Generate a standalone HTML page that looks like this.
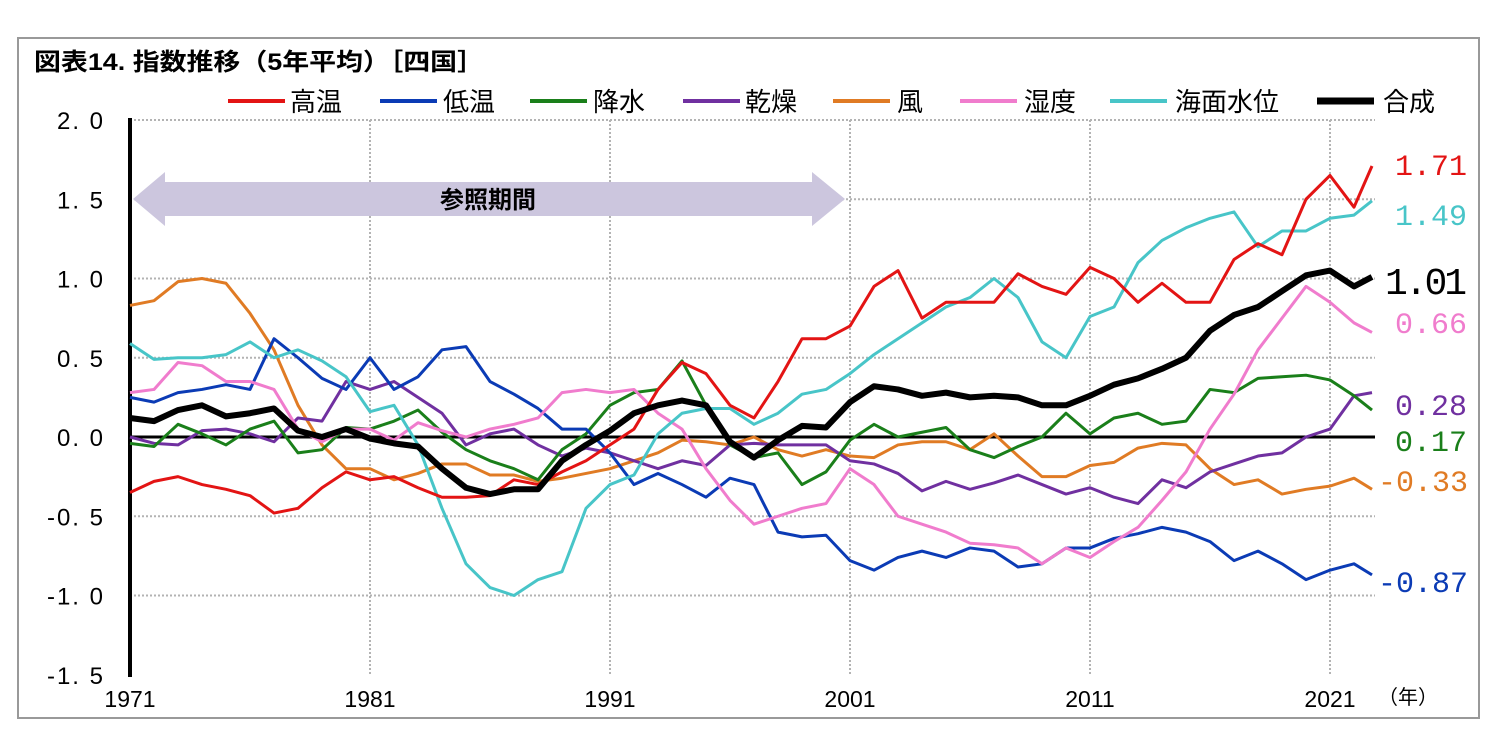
<!DOCTYPE html>
<html><head><meta charset="utf-8"><style>
body{margin:0;background:#fff;}
svg{display:block;font-family:"Liberation Sans","Noto Sans CJK JP",sans-serif;}
</style></head><body>
<svg id="c" width="1497" height="748" xmlns="http://www.w3.org/2000/svg">
<rect x="18" y="38" width="1461" height="680" fill="#fff" stroke="#999" stroke-width="2"/>
<text x="34" y="70" font-size="24" font-weight="bold" textLength="450" lengthAdjust="spacingAndGlyphs">図表14. 指数推移（5年平均）［四国］</text>
<g id="grid"></g>
<g id="axes"></g>
<polygon points="133,199 165,172 165,182 812,182 812,172 845,199 812,226 812,216 165,216 165,226" fill="#ccc6de"/>
<text x="488" y="208" font-size="24" font-weight="bold" text-anchor="middle">参照期間</text>
<g id="series"></g>
<g id="legend"></g>
<g id="endlabels"></g>
</svg>
<script>
const years=[1971,1972,1973,1974,1975,1976,1977,1978,1979,1980,1981,1982,1983,1984,1985,1986,1987,1988,1989,1990,1991,1992,1993,1994,1995,1996,1997,1998,1999,2000,2001,2002,2003,2004,2005,2006,2007,2008,2009,2010,2011,2012,2013,2014,2015,2016,2017,2018,2019,2020,2021,2022,2022.75];
const highTemp=[-.35,-.28,-.25,-.3,-.33,-.37,-.48,-.45,-.32,-.22,-.27,-.25,-.32,-.38,-.38,-.37,-.27,-.3,-.22,-.15,-.05,.05,.3,.47,.4,.2,.12,.35,.62,.62,.7,.95,1.05,.75,.85,.85,.85,1.03,.95,.9,1.07,1.0,.85,.97,.85,.85,1.12,1.22,1.15,1.5,1.65,1.45,1.71];
const lowTemp=[.25,.22,.28,.3,.33,.3,.62,.5,.37,.3,.5,.3,.38,.55,.57,.35,.27,.18,.05,.05,-.1,-.3,-.23,-.3,-.38,-.26,-.3,-.6,-.63,-.62,-.78,-.84,-.76,-.72,-.76,-.7,-.72,-.82,-.8,-.7,-.7,-.64,-.61,-.57,-.6,-.66,-.78,-.72,-.8,-.9,-.84,-.8,-.87];
const precip=[-.04,-.06,.08,.02,-.05,.05,.1,-.1,-.08,.06,.05,.1,.17,.03,-.08,-.15,-.2,-.27,-.08,.02,.2,.28,.3,.48,.2,-.05,-.13,-.1,-.3,-.22,-.02,.08,0,.03,.06,-.08,-.13,-.06,0,.15,.02,.12,.15,.08,.1,.3,.28,.37,.38,.39,.36,.26,.17];
const dry=[0,-.04,-.05,.04,.05,.02,-.03,.12,.1,.35,.3,.35,.25,.15,-.05,.02,.05,-.05,-.12,-.07,-.1,-.15,-.2,-.15,-.18,-.05,-.04,-.05,-.05,-.05,-.15,-.17,-.23,-.34,-.28,-.33,-.29,-.24,-.3,-.36,-.32,-.38,-.42,-.27,-.32,-.22,-.17,-.12,-.1,0,.05,.26,.28];
const wind=[.83,.86,.98,1.0,.97,.78,.55,.2,-.05,-.2,-.2,-.27,-.23,-.17,-.17,-.24,-.24,-.28,-.26,-.23,-.2,-.15,-.1,-.02,-.03,-.05,0,-.08,-.12,-.08,-.12,-.13,-.05,-.03,-.03,-.08,.02,-.12,-.25,-.25,-.18,-.16,-.07,-.04,-.05,-.2,-.3,-.27,-.36,-.33,-.31,-.26,-.33];
const humidity=[.28,.3,.47,.45,.35,.35,.3,.05,-.03,.05,.05,-.02,.09,.04,0,.05,.08,.12,.28,.3,.28,.3,.15,.05,-.2,-.4,-.55,-.5,-.45,-.42,-.2,-.3,-.5,-.55,-.6,-.67,-.68,-.7,-.8,-.7,-.76,-.66,-.57,-.4,-.22,.05,.27,.55,.75,.95,.85,.72,.66];
const seaLevel=[.59,.49,.5,.5,.52,.6,.5,.55,.48,.38,.16,.2,-.05,-.45,-.8,-.95,-1.0,-.9,-.85,-.45,-.3,-.24,.02,.15,.18,.18,.08,.15,.27,.3,.4,.52,.62,.72,.82,.88,1.0,.88,.6,.5,.76,.82,1.1,1.24,1.32,1.38,1.42,1.2,1.3,1.3,1.38,1.4,1.49];
const composite=[.12,.1,.17,.2,.13,.15,.18,.04,0,.05,-.01,-.04,-.06,-.2,-.32,-.36,-.33,-.33,-.15,-.05,.04,.15,.2,.23,.2,-.03,-.13,-.02,.07,.06,.22,.32,.3,.26,.28,.25,.26,.25,.2,.2,.26,.33,.37,.43,.5,.67,.77,.82,.92,1.02,1.05,.95,1.01];
const yTicks=[2.0,1.5,1.0,0.5,0.0,-0.5,-1.0,-1.5];
const xTicks=[1971,1981,1991,2001,2011,2021];
const seriesNames=["高温","低温","降水","乾燥","風","湿度","海面水位","合成"];

const NS="http://www.w3.org/2000/svg";
const X=y=>130+(y-1971)*24;
const Y=v=>437-v*158.5;
function mk(tag,attrs,parent,text){const e=document.createElementNS(NS,tag);for(const k in attrs)e.setAttribute(k,attrs[k]);if(text!==undefined)e.textContent=text;parent.appendChild(e);return e;}
const grid=document.getElementById('grid'),axes=document.getElementById('axes'),ser=document.getElementById('series'),leg=document.getElementById('legend'),endl=document.getElementById('endlabels');

yTicks.forEach(t=>{
  if(t!==0&&t!==-1.5){const g=mk('line',{x1:130,x2:1375,y1:Y(t),y2:Y(t),stroke:'#b3b3b3','stroke-width':2,'stroke-dasharray':'2,2'},grid);
  
  }
  const lb=mk('text',{x:105,y:Y(t)+9,'font-size':24,'text-anchor':'end','letter-spacing':'2'},axes,(t<0?'-':'')+Math.abs(t).toFixed(1).replace('.','. '));
  
  
});
xTicks.forEach(t=>{
  if(t!==1971){const g=mk('line',{x1:X(t),x2:X(t),y1:120,y2:675,stroke:'#b3b3b3','stroke-width':2,'stroke-dasharray':'2,2'},grid);
  
  }
  const lb=mk('text',{x:X(t),y:707,'font-size':23,'text-anchor':'middle'},axes,String(t));
  
  
});
const unit=mk('text',{x:1378,y:704,'font-size':20},axes,'（年）');


const za=mk('line',{x1:130,x2:1375,y1:Y(0),y2:Y(0),stroke:'#000','stroke-width':3},axes);


const ya=mk('line',{x1:130,x2:130,y1:118,y2:677,stroke:'#000','stroke-width':4},axes);



const defs=[
 {d:wind,c:'#e07b24',w:3,n:'series-wind',lx:833,tx:897,ly:491,lab:'-0.33'},
 {d:dry,c:'#7030a0',w:3,n:'series-dry',lx:683,tx:745,ly:415,lab:'0.28'},
 {d:precip,c:'#1a7f1a',w:3,n:'series-precip',lx:530,tx:593,ly:451,lab:'0.17'},
 {d:lowTemp,c:'#0b3bb5',w:3,n:'series-low-temp',lx:380,tx:443,ly:592,lab:'-0.87'},
 {d:humidity,c:'#f07ccd',w:3,n:'series-humidity',lx:960,tx:1024,ly:333,lab:'0.66'},
 {d:seaLevel,c:'#48c5c8',w:3,n:'series-sea-level',lx:1110,tx:1175,ly:225,lab:'1.49'},
 {d:highTemp,c:'#e31414',w:3,n:'series-high-temp',lx:228,tx:290,ly:175,lab:'1.71'},
 {d:composite,c:'#000',w:6,n:'series-composite',lx:1317,tx:1383,ly:294,lab:'1.01'}
];
defs.forEach(s=>{
  const p=mk('polyline',{points:s.d.map((v,i)=>X(years[i])+','+Y(v)).join(' '),fill:'none',stroke:s.c,'stroke-width':s.w,'stroke-linejoin':'round'},ser);
  
  
});
const order=[6,3,2,1,0,4,5,7];
order.forEach((k,i)=>{
  const s=defs[k];
  const l=mk('line',{x1:s.lx,x2:s.lx+57,y1:101,y2:101,stroke:s.c,'stroke-width':s.w===6?7:4},leg);
  
  
  const t=mk('text',{x:s.tx,y:111,'font-size':26},leg,seriesNames[i]);
  
  
  const big=s.w===6;
  const neg=s.lab[0]==='-';
  const e=mk('text',{x:big?1385:(neg?1378:1395),y:s.ly,'font-size':big?38:30,fill:s.c,'font-family':'Liberation Mono, monospace',textLength:big?82:(neg?90:72),lengthAdjust:'spacing'},endl,s.lab);
  
  
});
</script>
</body></html>
